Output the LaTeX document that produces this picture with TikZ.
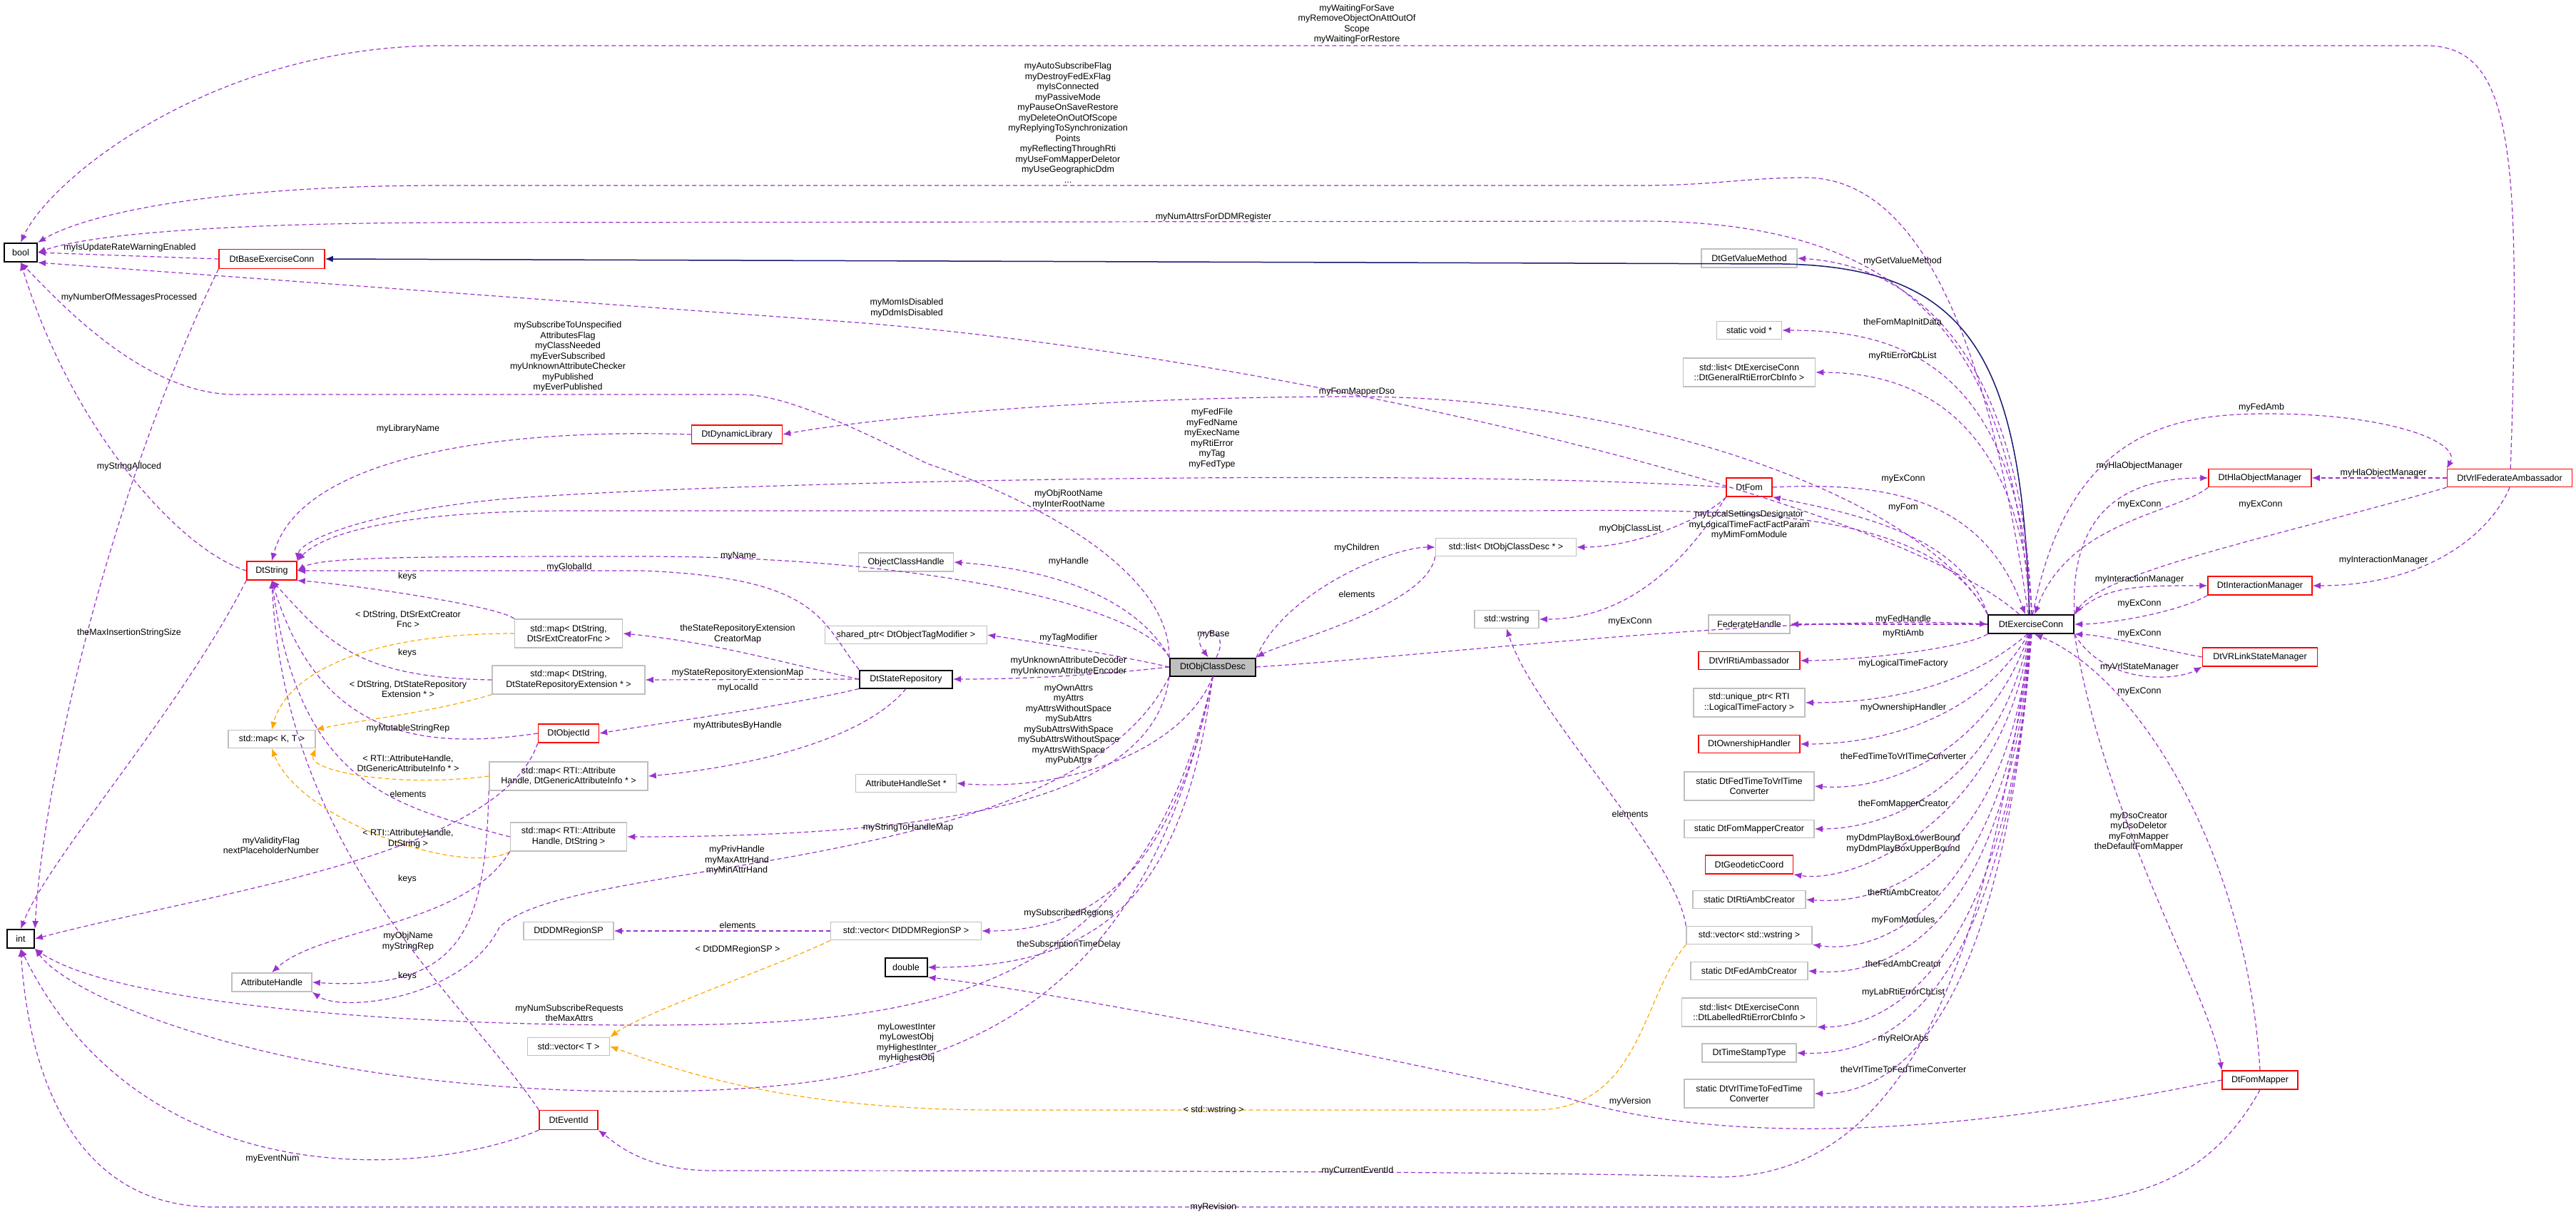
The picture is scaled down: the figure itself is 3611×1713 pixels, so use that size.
\documentclass[tikz,border=0pt]{standalone}
\usepackage{fontspec}
\setmainfont{Liberation Sans}
\usetikzlibrary{arrows.meta}
\definecolor{pur}{RGB}{154,50,205}
\definecolor{org}{RGB}{255,165,0}
\definecolor{nav}{RGB}{25,25,112}
\definecolor{gb}{RGB}{191,191,191}
\newcommand\Lb[4]{\node[lbl] (#1) at (#2,#3) {#4};}
\newcommand\Bx[7]{\node[#1, minimum width=#5, minimum height=#6] (#2) at (#3,#4) {#7};}
\begin{document}
\begin{tikzpicture}[x=1pt,y=-1pt,
  bx/.style={draw=gb, line width=1.5pt, align=center, inner sep=1pt, font=\fontsize{12.5}{14.5}\selectfont},
  rb/.style={bx, draw=red},
  kb/.style={bx, draw=black, line width=2pt},
  lbl/.style={align=center, inner sep=0pt, font=\fontsize{12.5}{14.5}\selectfont},
  e/.style={draw=pur, dashed, line width=1.2pt, dash pattern=on 6pt off 4pt, -{Latex[length=11pt,width=9pt]}},
  o/.style={e, draw=org, -{Latex[length=11pt,width=9pt,fill=org]}},
  inh/.style={draw=nav, line width=1.5pt, -{Latex[length=11pt,width=9pt]}}]
\useasboundingbox (0,0) rectangle (3611,1713);
% nodes
\Bx{kb}{bool}{29}{354}{46}{26}{bool}
\Bx{rb}{basexc}{381}{363}{148}{27}{DtBaseExerciseConn}
\Bx{rb}{dynlib}{1033}{609}{127}{26}{DtDynamicLibrary}
\Bx{rb}{str}{381}{800}{70}{26}{DtString}
\Bx{bx}{srmap1}{797}{888}{151}{40}{std::map< DtString,\\DtSrExtCreatorFnc >}
\Bx{bx}{srmap2}{797}{953}{214}{40}{std::map< DtString,\\DtStateRepositoryExtension * >}
\Bx{bx}{kt}{381}{1036}{122}{25}{std::map< K, T >}
\Bx{rb}{objid}{797}{1028}{85}{26}{DtObjectId}
\Bx{bx}{rmap1}{797}{1088}{222}{40}{std::map< RTI::Attribute\\Handle, DtGenericAttributeInfo * >}
\Bx{bx}{rmap2}{797}{1173}{163}{40}{std::map< RTI::Attribute\\Handle, DtString >}
\Bx{kb}{int}{29}{1316}{38}{26}{int}
\Bx{bx}{ddm}{797}{1305}{126}{25}{DtDDMRegionSP}
\Bx{bx}{ah}{381}{1377}{112}{26}{AttributeHandle}
\Bx{bx}{vecT}{797}{1467}{115}{25}{std::vector< T >}
\Bx{rb}{evid}{797}{1570}{82}{27}{DtEventId}
\node[kb, fill=gb, minimum width=120, minimum height=25] (ocd) at (1700,935) {DtObjClassDesc};
\Bx{bx}{och}{1270}{788}{133}{26}{ObjectClassHandle}
\Bx{bx}{sp}{1270}{890}{227}{25}{shared\_ptr< DtObjectTagModifier >}
\Bx{kb}{srep}{1270}{952}{130}{25}{DtStateRepository}
\Bx{bx}{ahs}{1270}{1098}{141}{25}{AttributeHandleSet *}
\Bx{bx}{rvec}{1270}{1305}{211}{25}{std::vector< DtDDMRegionSP >}
\Bx{kb}{dbl}{1270}{1356}{59}{26}{double}
\Bx{bx}{lst}{2111}{767}{197}{25}{std::list< DtObjClassDesc * >}
\Bx{bx}{wstr}{2112}{868}{90}{25}{std::wstring}
\Bx{rb}{fom}{2452}{683}{64}{26}{DtFom}
\Bx{kb}{exc}{2847}{875}{120}{26}{DtExerciseConn}
\Bx{rb}{hla}{3168}{670}{144}{25}{DtHlaObjectManager}
\Bx{rb}{vfa}{3518}{670}{175}{25}{DtVrlFederateAmbassador}
\Bx{rb}{im}{3168}{821}{146}{26}{DtInteractionManager}
\Bx{rb}{vrl}{3168}{921}{161}{26}{DtVRLinkStateManager}
\Bx{bx}{getv}{2452}{362}{134}{26}{DtGetValueMethod}
\Bx{bx}{sv}{2452}{463}{91}{25}{static void *}
\Bx{bx}{lg}{2452}{522}{185}{40}{std::list< DtExerciseConn\\::DtGeneralRtiErrorCbInfo >}
\Bx{bx}{fh}{2452}{875}{114}{26}{FederateHandle}
\Bx{rb}{vra}{2452}{926}{142}{25}{DtVrlRtiAmbassador}
\Bx{bx}{up}{2452}{985}{156}{40}{std::unique\_ptr< RTI\\::LogicalTimeFactory >}
\Bx{rb}{own}{2452}{1043}{142}{25}{DtOwnershipHandler}
\Bx{bx}{f2v}{2452}{1102}{182}{40}{static DtFedTimeToVrlTime\\Converter}
\Bx{bx}{fmc}{2452}{1162}{182}{25}{static DtFomMapperCreator}
\Bx{rb}{geo}{2452}{1212}{123}{26}{DtGeodeticCoord}
\Bx{bx}{rac}{2452}{1261}{158}{25}{static DtRtiAmbCreator}
\Bx{bx}{wvec}{2452}{1311}{176}{25}{std::vector< std::wstring >}
\Bx{bx}{fac}{2452}{1361}{164}{25}{static DtFedAmbCreator}
\Bx{bx}{lab}{2452}{1419}{189}{40}{std::list< DtExerciseConn\\::DtLabelledRtiErrorCbInfo >}
\Bx{bx}{tst}{2452}{1476}{132}{26}{DtTimeStampType}
\Bx{bx}{v2f}{2452}{1533}{182}{40}{static DtVrlTimeToFedTime\\Converter}
\Bx{rb}{fmap}{3168}{1514}{106}{26}{DtFomMapper}
% edges
\draw[inh] (exc.100) .. controls (2835,500) and (2760,375) .. (2500,370) -- (basexc.east);
\draw[e] (vfa.85) .. controls (3535,200) and (3520,64) .. (3400,64) -- (620,64) .. controls (300,64) and (70,250) .. (bool.north);
\draw[e] (exc.105) .. controls (2790,500) and (2700,249) .. (2530,249) .. controls (2450,249) and (2400,260) .. (2300,260) -- (620,260) .. controls (300,260) and (120,300) .. (bool.north east);
\draw[e] (exc.95) .. controls (2820,500) and (2700,310) .. (2300,310) -- (650,312) .. controls (300,312) and (120,330) .. (bool.east);
\draw[e] (basexc.west) -- (bool.east);
\draw[e] (exc.140) .. controls (2650,700) and (1800,500) .. (1200,452) -- (bool.south east);
\draw[e] (ocd.north west) .. controls (1640,800) and (1450,700) .. (1300,650) .. controls (1200,600) and (1100,553) .. (1040,553) -- (330,553) .. controls (200,553) and (80,420) .. (bool.south);
\draw[e] (basexc.south west) .. controls (150,700) and (60,1100) .. (int.north east);
\draw[e] (str.west) .. controls (250,770) and (100,600) .. (bool.south);
\draw[e] (str.south west) .. controls (250,1000) and (70,1200) .. (int.north);
\draw[e] (dynlib.west) .. controls (700,600) and (420,640) .. (str.north);
\draw[e] (fom.west) .. controls (2000,655) and (1000,675) .. (700,700) .. controls (500,720) and (420,760) .. (str.north east);
\draw[e] (exc.north west) .. controls (2700,700) and (2400,716) .. (2100,716) -- (800,716) .. controls (550,716) and (450,750) .. (str.north east);
\draw[e] (ocd.north west) .. controls (1600,850) and (1300,780) .. (900,780) .. controls (600,780) and (450,780) .. (str.east);
\draw[e] (srep.north west) .. controls (1150,870) and (1150,810) .. (900,800) -- (str.east);
\draw[e] (srmap1.north west) .. controls (700,850) and (500,820) .. (str.south east);
\draw[e] (srmap2.west) .. controls (500,950) and (460,900) .. (str.south);
\draw[e] (objid.west) .. controls (600,1050) and (450,1040) .. (str.south);
\draw[e] (rmap2.west) .. controls (550,1130) and (420,1100) .. (str.south);
\draw[e] (evid.north west) .. controls (650,1400) and (400,1200) .. (str.south);
\draw[o] (srmap1.west) .. controls (500,888) and (400,950) .. (kt.north);
\draw[o] (srmap2.south west) .. controls (600,1000) and (500,1010) .. (kt.north east);
\draw[o] (rmap1.west) .. controls (550,1105) and (430,1080) .. (kt.south east);
\draw[o] (rmap2.south west) .. controls (650,1230) and (420,1150) .. (kt.south);
\draw[e] (srep.west) .. controls (1100,930) and (1000,900) .. (srmap1.east);
\draw[e] (srep.west) -- (srmap2.east);
\draw[e] (srep.south west) .. controls (1100,990) and (950,1010) .. (objid.east);
\draw[e] (srep.south) .. controls (1200,1050) and (1000,1080) .. (rmap1.east);
\draw[e] (objid.south west) .. controls (700,1200) and (300,1250) .. (int.east);
\draw[e] (rmap2.south west) .. controls (650,1300) and (450,1300) .. (ah.north);
\draw[e] (rmap1.south west) .. controls (680,1300) and (650,1390) .. (ah.east);
\draw[e] (ocd.south west) .. controls (1500,1230) and (800,1200) .. (700,1300) .. controls (650,1400) and (480,1420) .. (ah.south east);
\draw[e] (ocd.south) .. controls (1600,1400) and (1300,1437) .. (900,1437) .. controls (500,1437) and (150,1400) .. (int.south east);
\draw[e] (ocd.south) .. controls (1600,1450) and (1300,1530) .. (900,1530) .. controls (400,1530) and (100,1400) .. (int.south east);
\draw[e] (evid.south west) .. controls (600,1650) and (200,1680) .. (int.south);
\draw[e] (fmap.south) .. controls (3100,1650) and (3000,1692) .. (2800,1692) -- (300,1692) .. controls (100,1692) and (40,1500) .. (int.south);
\draw[e] (exc.265) .. controls (2780,1400) and (2650,1655) .. (2400,1650) .. controls (2200,1641) and (1200,1641) .. (1000,1641) .. controls (900,1641) and (860,1600) .. (evid.south east);
\draw[e] (rvec.west) -- (ddm.east);
\draw[o] (rvec.south west) .. controls (1100,1350) and (900,1420) .. (vecT.north east);
\draw[o] (wvec.south west) .. controls (2300,1400) and (2300,1556) .. (2150,1556) -- (1400,1556) .. controls (1100,1556) and (950,1500) .. (vecT.east);
\draw[e] (wvec.north west) .. controls (2350,1200) and (2150,1000) .. (wstr.south);
\draw[e] (ocd.70) .. controls (1730,875) and (1660,875) .. (ocd.115);
\draw[e] (ocd.north west) .. controls (1600,850) and (1500,800) .. (och.east);
\draw[e] (ocd.west) .. controls (1550,915) and (1450,900) .. (sp.east);
\draw[e] (ocd.west) .. controls (1550,945) and (1450,952) .. (srep.east);
\draw[e] (ocd.south) .. controls (1660,1050) and (1500,1110) .. (ahs.east);
\draw[e] (ocd.south west) .. controls (1620,1100) and (1400,1173) .. (rmap2.east);
\draw[e] (ocd.south) .. controls (1650,1200) and (1550,1305) .. (rvec.east);
\draw[e] (ocd.south) .. controls (1660,1250) and (1550,1356) .. (dbl.east);
\draw[e] (ocd.north east) .. controls (1800,830) and (1950,767) .. (lst.west);
\draw[e] (lst.south west) .. controls (2000,850) and (1800,900) .. (ocd.north east);
\draw[e] (ocd.east) .. controls (2000,920) and (2500,860) .. (exc.west);
\draw[e] (fom.south west) .. controls (2400,720) and (2300,767) .. (lst.east);
\draw[e] (fom.south west) .. controls (2380,760) and (2300,868) .. (wstr.east);
\draw[e] (exc.north west) .. controls (2700,700) and (2300,556) .. (1900,556) .. controls (1500,556) and (1200,590) .. (dynlib.east);
\draw[e] (exc.north west) .. controls (2750,750) and (2600,720) .. (fom.south east);
\draw[e] (fom.east) .. controls (2650,675) and (2780,700) .. (exc.120);
\draw[e] (exc.85) .. controls (2830,450) and (2650,370) .. (getv.east);
\draw[e] (exc.85) .. controls (2830,500) and (2650,463) .. (sv.east);
\draw[e] (exc.85) .. controls (2830,600) and (2700,522) .. (lg.east);
\draw[e] (exc.north east) .. controls (2900,700) and (3000,670) .. (hla.west);
\draw[e] (hla.south west) .. controls (3050,720) and (2900,730) .. (exc.70);
\draw[e] (exc.80) .. controls (2900,600) and (3050,580) .. (3180,580) .. controls (3350,580) and (3450,620) .. (vfa.north west);
\draw[e] (vfa.west) -- (hla.east);
\draw[e] (vfa.south) .. controls (3490,750) and (3400,821) .. (im.east);
\draw[e] (vfa.south west) .. controls (3200,750) and (2950,800) .. (exc.north east);
\draw[e] (exc.north east) .. controls (2950,820) and (3000,821) .. (im.west);
\draw[e] (im.south west) .. controls (3050,860) and (2950,875) .. (exc.east);
\draw[e] (vrl.west) .. controls (3050,915) and (2950,890) .. (exc.south east);
\draw[e] (exc.south east) .. controls (2950,960) and (3050,955) .. (vrl.south west);
\draw[e] (exc.west) -- (fh.east);
\draw[e] (exc.south west) .. controls (2750,910) and (2600,926) .. (vra.east);
\draw[e] (exc.250) .. controls (2760,960) and (2650,985) .. (up.east);
\draw[e] (exc.255) .. controls (2780,1000) and (2650,1043) .. (own.east);
\draw[e] (exc.258) .. controls (2790,1050) and (2650,1110) .. (f2v.east);
\draw[e] (exc.260) .. controls (2800,1100) and (2650,1162) .. (fmc.east);
\draw[e] (exc.262) .. controls (2810,1150) and (2600,1240) .. (geo.south east);
\draw[e] (exc.264) .. controls (2815,1200) and (2650,1270) .. (rac.east);
\draw[e] (exc.266) .. controls (2815,1250) and (2650,1340) .. (wvec.south east);
\draw[e] (exc.268) .. controls (2815,1300) and (2650,1370) .. (fac.east);
\draw[e] (exc.270) .. controls (2815,1350) and (2650,1440) .. (lab.south east);
\draw[e] (exc.272) .. controls (2810,1400) and (2650,1480) .. (tst.east);
\draw[e] (exc.274) .. controls (2805,1450) and (2650,1533) .. (v2f.east);
\draw[e] (exc.south east) .. controls (2950,1150) and (3100,1400) .. (fmap.north west);
\draw[e] (fmap.north) .. controls (3150,1200) and (3000,950) .. (exc.290);
\draw[e] (fmap.west) .. controls (2700,1600) and (2400,1600) .. (2200,1540) .. controls (1800,1450) and (1400,1380) .. (dbl.south east);
% labels
\Lb{l1}{1902}{34}{myWaitingForSave\\myRemoveObjectOnAttOutOf\\Scope\\myWaitingForRestore}
\Lb{l2}{1497}{172}{myAutoSubscribeFlag\\myDestroyFedExFlag\\myIsConnected\\myPassiveMode\\myPauseOnSaveRestore\\myDeleteOnOutOfScope\\myReplyingToSynchronization\\Points\\myReflectingThroughRti\\myUseFomMapperDeletor\\myUseGeographicDdm\\...}
\Lb{l3}{1701}{304}{myNumAttrsForDDMRegister}
\Lb{l4}{182}{347}{myIsUpdateRateWarningEnabled}
\Lb{l5}{181}{417}{myNumberOfMessagesProcessed}
\Lb{l6}{1271}{432}{myMomIsDisabled\\myDdmIsDisabled}
\Lb{l7}{796}{500}{mySubscribeToUnspecified\\AttributesFlag\\myClassNeeded\\myEverSubscribed\\myUnknownAttributeChecker\\myPublished\\myEverPublished}
\Lb{l8}{1902}{549}{myFomMapperDso}
\Lb{l9}{572}{601}{myLibraryName}
\Lb{l10}{1699}{615}{myFedFile\\myFedName\\myExecName\\myRtiError\\myTag\\myFedType}
\Lb{l11}{181}{654}{myStringAlloced}
\Lb{l12}{1498}{700}{myObjRootName\\myInterRootName}
\Lb{l13}{1035}{779}{myName}
\Lb{l14}{798}{795}{myGlobalId}
\Lb{l15}{571}{808}{keys}
\Lb{l16}{572}{868}{< DtString, DtSrExtCreator\\Fnc >}
\Lb{l17}{1034}{889}{theStateRepositoryExtension\\CreatorMap}
\Lb{l18}{181}{887}{theMaxInsertionStringSize}
\Lb{l19}{571}{915}{keys}
\Lb{l20}{1034}{943}{myStateRepositoryExtensionMap}
\Lb{l21}{1034}{964}{myLocalId}
\Lb{l22}{572}{966}{< DtString, DtStateRepository\\Extension * >}
\Lb{l23}{572}{1021}{myMutableStringRep}
\Lb{l24}{1034}{1017}{myAttributesByHandle}
\Lb{l25}{572}{1070}{< RTI::AttributeHandle,\\DtGenericAttributeInfo * >}
\Lb{l26}{572}{1113}{elements}
\Lb{l27}{380}{1185}{myValidityFlag\\nextPlaceholderNumber}
\Lb{l28}{572}{1176}{< RTI::AttributeHandle,\\DtString >}
\Lb{l29}{1033}{1206}{myPrivHandle\\myMaxAttrHand\\myMinAttrHand}
\Lb{l30}{571}{1232}{keys}
\Lb{l31}{1034}{1297}{elements}
\Lb{l32}{1034}{1331}{< DtDDMRegionSP >}
\Lb{l33}{572}{1320}{myObjName\\myStringRep}
\Lb{l34}{571}{1368}{keys}
\Lb{l35}{798}{1420}{myNumSubscribeRequests\\theMaxAttrs}
\Lb{l36}{382}{1624}{myEventNum}
\Lb{l37}{1498}{787}{myHandle}
\Lb{l38}{1498}{894}{myTagModifier}
\Lb{l39}{1498}{934}{myUnknownAttributeDecoder\\myUnknownAttributeEncoder}
\Lb{l40}{1498}{1016}{myOwnAttrs\\myAttrs\\myAttrsWithoutSpace\\mySubAttrs\\mySubAttrsWithSpace\\mySubAttrsWithoutSpace\\myAttrsWithSpace\\myPubAttrs}
\Lb{l41}{1902}{768}{myChildren}
\Lb{l42}{2285}{741}{myObjClassList}
\Lb{l43}{1902}{833}{elements}
\Lb{l44}{2285}{871}{myExConn}
\Lb{l45}{1701}{889}{myBase}
\Lb{l46}{1273}{1160}{myStringToHandleMap}
\Lb{l47}{1498}{1280}{mySubscribedRegions}
\Lb{l48}{1498}{1324}{theSubscriptionTimeDelay}
\Lb{l49}{1271}{1462}{myLowestInter\\myLowestObj\\myHighestInter\\myHighestObj}
\Lb{l50}{1701}{1556}{< std::wstring >}
\Lb{l51}{1903}{1641}{myCurrentEventId}
\Lb{l52}{1701}{1692}{myRevision}
\Lb{l53}{2285}{1544}{myVersion}
\Lb{l54}{2667}{366}{myGetValueMethod}
\Lb{l55}{2667}{452}{theFomMapInitData}
\Lb{l56}{2667}{499}{myRtiErrorCbList}
\Lb{l57}{3170}{571}{myFedAmb}
\Lb{l58}{2999}{653}{myHlaObjectManager}
\Lb{l59}{3341}{663}{myHlaObjectManager}
\Lb{l60}{2668}{671}{myExConn}
\Lb{l61}{2668}{711}{myFom}
\Lb{l62}{2999}{707}{myExConn}
\Lb{l63}{3169}{707}{myExConn}
\Lb{l64}{2452}{736}{myLocalSettingsDesignator\\myLogicalTimeFactFactParam\\myMimFomModule}
\Lb{l65}{3341}{785}{myInteractionManager}
\Lb{l66}{2999}{812}{myInteractionManager}
\Lb{l67}{2999}{846}{myExConn}
\Lb{l68}{2668}{868}{myFedHandle}
\Lb{l69}{2668}{888}{myRtiAmb}
\Lb{l70}{2999}{888}{myExConn}
\Lb{l71}{2668}{930}{myLogicalTimeFactory}
\Lb{l72}{2999}{935}{myVrlStateManager}
\Lb{l73}{2999}{969}{myExConn}
\Lb{l74}{2668}{992}{myOwnershipHandler}
\Lb{l75}{2668}{1060}{theFedTimeToVrlTimeConverter}
\Lb{l76}{2285}{1141}{elements}
\Lb{l77}{2668}{1127}{theFomMapperCreator}
\Lb{l78}{2998}{1166}{myDsoCreator\\myDsoDeletor\\myFomMapper\\theDefaultFomMapper}
\Lb{l79}{2668}{1183}{myDdmPlayBoxLowerBound\\myDdmPlayBoxUpperBound}
\Lb{l80}{2668}{1251}{theRtiAmbCreator}
\Lb{l81}{2668}{1290}{myFomModules}
\Lb{l82}{2668}{1351}{theFedAmbCreator}
\Lb{l83}{2668}{1391}{myLabRtiErrorCbList}
\Lb{l84}{2668}{1456}{myRelOrAbs}
\Lb{l85}{2668}{1499}{theVrlTimeToFedTimeConverter}
\end{tikzpicture}
\end{document}
